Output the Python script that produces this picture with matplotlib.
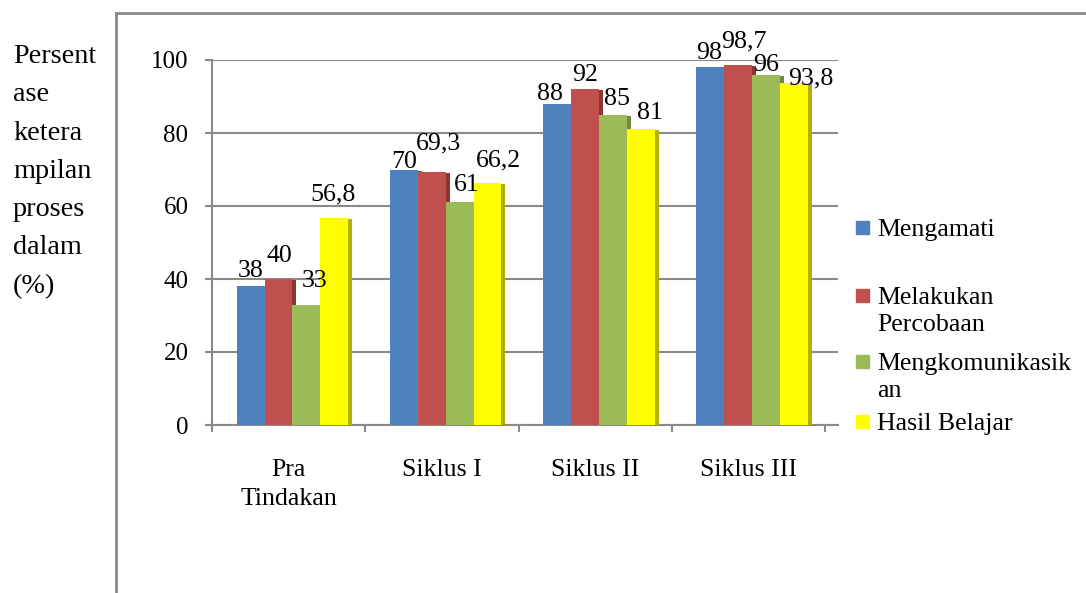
import textwrap
import matplotlib
matplotlib.use("Agg")
import matplotlib.pyplot as plt
from matplotlib.lines import Line2D
from matplotlib.patches import Rectangle

# data
categories = ["Pra\nTindakan", "Siklus I", "Siklus II", "Siklus III"]
series = ["Mengamati", "Melakukan Percobaan", "Mengkomunikasikan", "Hasil Belajar"]
mengamati = [38, 70, 88, 98]
percobaan = [40, 69.3, 92, 98.7]
komunikasi = [33, 61, 85, 96]
hasil_belajar = [56.8, 66.2, 81, 93.8]
values = [mengamati, percobaan, komunikasi, hasil_belajar]
yticks = [0, 20, 40, 60, 80, 100]
ylabel_lines = ["Persent", "ase", "ketera", "mpilan", "proses", "dalam", "(%)"]

face_colors = ["#4f81bd", "#c0504d", "#9bbb59", "#ffff00"]
side_colors = ["#38608f", "#8e3533", "#71893f", "#b3b000"]
grey = "#8a8a8a"

# value label nudges in pixels (dx, dy above bar top), one row per category
label_nudge = [
    [(0, 9), (1, 17), (8, 18), (-1, 17)],
    [(0, 2), (7, 23), (7, 11), (11, 17)],
    [(-7, 4), (0, 8), (4, 10), (9, 10)],
    [(-1, 8), (6, 17), (0, 4), (17, -2)],
]

W, H = 1086, 593
plt.rcParams["font.family"] = ["Liberation Serif", "DejaVu Serif"]
fs = 18.6

fig = plt.figure(figsize=(W / 100, H / 100), dpi=100)


def fx(x):
    return x / W


def fy(y):
    return 1 - y / H


ax = fig.add_axes([fx(212), fy(425), (838 - 212) / W, (425 - 60) / H])

bar_w = 0.182
side_w = 0.026
first = -0.5 + 0.161 + bar_w / 2

for k, vals in enumerate(values):
    xs = [i + first + k * bar_w for i in range(len(categories))]
    ax.bar(xs, vals, width=bar_w, color=face_colors[k], zorder=3 + k)
    ax.bar([x + bar_w / 2 + side_w / 2 for x in xs], [v - 0.3 for v in vals],
           width=side_w, color=side_colors[k], zorder=3.5 + k)
    for i, (x, v) in enumerate(zip(xs, vals)):
        dx, dy = label_nudge[i][k]
        ax.annotate(f"{v:g}".replace(".", ","), xy=(x, v),
                    xytext=(dx * 0.72, dy * 0.72), textcoords="offset points",
                    ha="center", va="baseline", fontsize=fs, zorder=10)

ax.set_xlim(-0.5, 3.5 + 13 / 153.25)
ax.set_ylim(0, 100)
ax.set_yticks(yticks)
ax.set_xticks([i - 0.5 for i in range(len(categories) + 1)])
ax.set_xticklabels([])
ax.tick_params(axis="both", direction="out", length=5, width=1.5, color=grey,
               labelsize=18)
ax.tick_params(axis="y", pad=12)
ax.set_axisbelow(True)
ax.yaxis.grid(True, color=grey, linewidth=1.5)
for name in ["top", "right"]:
    ax.spines[name].set_visible(False)
for name in ["left", "bottom"]:
    ax.spines[name].set_color(grey)
    ax.spines[name].set_linewidth(1.5)

# category names under the axis, line by line
for i, name in enumerate(categories):
    for j, line in enumerate(name.split("\n")):
        ax.annotate(line, xy=(i, 0), xycoords=("data", "axes fraction"),
                    xytext=(0, -(51 + 29 * j) * 0.72),
                    textcoords="offset points",
                    ha="center", va="baseline", fontsize=fs)

# axis title, one short line at a time
for j, line in enumerate(ylabel_lines):
    fig.text(fx(13), fy(63 + 38.3 * j), line, fontsize=20.3,
             ha="left", va="baseline")

# legend on the right
legend_y = [236, 304, 370, 430]
for k, name in enumerate(series):
    y0 = legend_y[k]
    fig.patches.append(Rectangle((fx(856), fy(y0 - 2)), 13 / W, 13 / H,
                                 transform=fig.transFigure,
                                 color=face_colors[k]))
    for j, line in enumerate(textwrap.wrap(name, 15)):
        fig.text(fx(877), fy(y0 + 27 * j), line, fontsize=fs,
                 ha="left", va="baseline")

# chart frame
fig.lines.append(Line2D([fx(116), fx(116)], [0, fy(13)], color=grey,
                        linewidth=2, transform=fig.transFigure))
fig.lines.append(Line2D([fx(116), 1], [fy(13), fy(13)], color=grey,
                        linewidth=2, transform=fig.transFigure))

fig.savefig("out.png", dpi=100)
